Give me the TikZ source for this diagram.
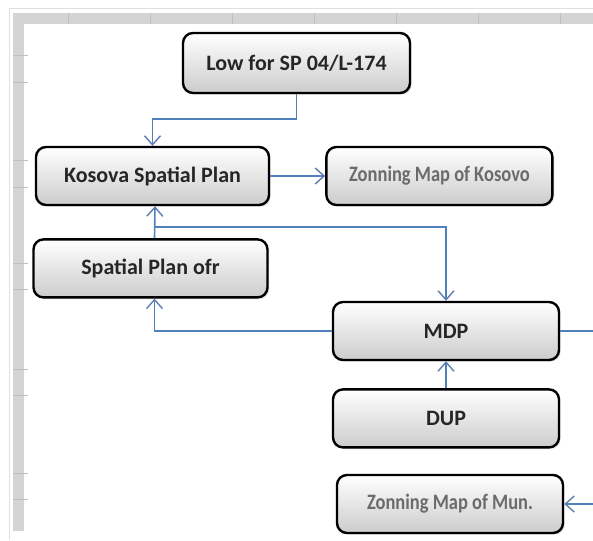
\documentclass[tikz,border=0pt]{standalone}
\usepackage{fontspec}
\setmainfont{Carlito}
\usepackage{graphicx}
\usetikzlibrary{calc}
\usetikzlibrary{positioning,arrows.meta,shadows}

\definecolor{linkblue}{RGB}{79,129,189}
\definecolor{tipblue}{RGB}{95,125,175}
\definecolor{sheetgray}{RGB}{212,212,212}

\begin{document}
\begin{tikzpicture}[x=0.5pt, y=-0.5pt, >={Straight Barb[length=4.5pt,width=8pt,line width=0.7pt,color=tipblue]},
    every node/.style={font=\fontsize{11}{13}\selectfont\bfseries}]
  % rounded boxes with a soft grey fade at the bottom
  \tikzset{block/.style={draw, line width=1.2pt, rounded corners=5pt, top color=white, middle color=white, bottom color=black!20,
      minimum width=113pt, minimum height=29pt, align=center, text=black!85,
      drop shadow={shadow xshift=0.8pt, shadow yshift=-0.8pt, opacity=0.25}},
    mapblock/.style={block, text=black!58},
    link/.style={draw=linkblue, line width=0.8pt}}
  \clip (0,0) rectangle (593,540);
  \fill[white] (0,0) rectangle (593,540);

  % spreadsheet frame at top and left
  \draw[black!12] (9,8) -- (593,8);
  \draw[black!12] (9,8) -- (9,540);
  \fill[sheetgray] (13,13) rectangle (593,24);
  \fill[sheetgray] (13,13) rectangle (24,531);
  \foreach \gx in {68,150,232,314,396,478,560}
    \draw[black!25] (\gx,13) -- (\gx,24);
  \foreach \gy in {55,82,160,187,263,289,369,395,473,499}
    \draw[black!25] (13,\gy) -- (28,\gy);

  % nodes
  \node[block, minimum width=113.5pt, minimum height=30pt] (low) at (296.5,63) {Low for SP 04/L-174};
  \node[block, minimum width=116.5pt] (ksp) at (152.5,176) {Kosova Spatial Plan};
  \node[mapblock, right=27.5pt of ksp] (zk) {\scalebox{0.84}[1]{Zonning Map of Kosovo}};
  \node[block, minimum width=117pt, below=16pt of ksp, xshift=-1pt] (spo) {Spatial Plan ofr};
  \node[block] (mdp) at (446,331) {MDP};
  \node[block, below=13.5pt of mdp] (dup) {DUP};
  \node[mapblock] (zmun) at (450,504) {\scalebox{0.84}[1]{Zonning Map of Mun.}};
  \coordinate (rim) at (612,420);

  % connectors
  \draw[link, ->] (low.south) -- ++(0,25) -| (ksp.north);
  \draw[link, ->] (ksp.east) -- (zk.west);
  \draw[link, ->] ($(spo.north)+(4,0)$) -- ($(ksp.south)+(2.5,0)$);
  \draw[link, ->] ($(spo.north)+(4,-11)$) -| (mdp.north);
  \draw[link, ->] (mdp.west) -| ($(spo.south)+(4,0)$);
  \draw[link, ->] (dup.north) -- (mdp.south);
  \draw[link, ->] (mdp.east) -| (rim) |- (zmun.east);
\end{tikzpicture}
\end{document}
